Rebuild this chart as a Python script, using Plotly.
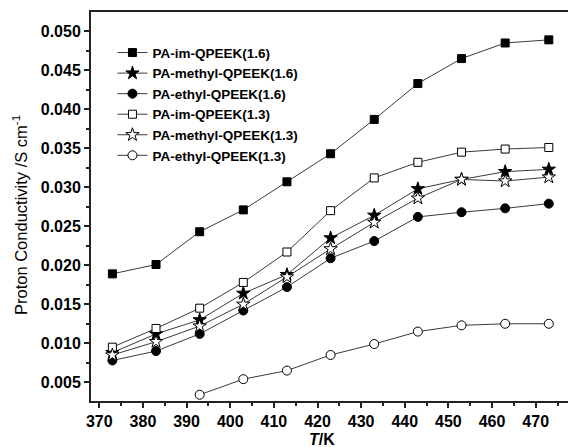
import plotly.graph_objects as go

temps = [373, 383, 393, 403, 413, 423, 433, 443, 453, 463, 473]
temps_ethyl13 = [393, 403, 413, 423, 433, 443, 453, 463, 473]

im16 = [0.0189, 0.0201, 0.0243, 0.0271, 0.0307, 0.0343, 0.0387, 0.0433, 0.0465, 0.0485, 0.0489]
methyl16 = [0.0088, 0.0112, 0.0130, 0.0164, 0.0188, 0.0235, 0.0264, 0.0298, 0.0310, 0.0320, 0.0323]
ethyl16 = [0.0078, 0.0090, 0.0112, 0.0142, 0.0172, 0.0209, 0.0231, 0.0262, 0.0268, 0.0273, 0.0279]
im13 = [0.0095, 0.0119, 0.0145, 0.0178, 0.0217, 0.0270, 0.0312, 0.0332, 0.0345, 0.0349, 0.0351]
methyl13 = [0.0085, 0.0102, 0.0122, 0.0150, 0.0185, 0.0221, 0.0255, 0.0286, 0.0310, 0.0308, 0.0313]
ethyl13 = [0.0034, 0.0054, 0.0065, 0.0085, 0.0099, 0.0115, 0.0123, 0.0125, 0.0125]

names = ["PA-im-QPEEK(1.6)", "PA-methyl-QPEEK(1.6)", "PA-ethyl-QPEEK(1.6)",
         "PA-im-QPEEK(1.3)", "PA-methyl-QPEEK(1.3)", "PA-ethyl-QPEEK(1.3)"]

series = [
    (temps, im16, "square", "black", 8),
    (temps, methyl16, "star", "black", 10),
    (temps, ethyl16, "circle", "black", 9),
    (temps, im13, "square", "white", 8),
    (temps, methyl13, "star", "white", 10),
    (temps_ethyl13, ethyl13, "circle", "white", 9),
]

fig = go.Figure()
for name, (xs, ys, sym, fill, sz) in zip(names, series):
    fig.add_trace(go.Scatter(
        x=xs, y=ys, name=name, mode="lines+markers",
        line=dict(color="#3a3a3a", width=1),
        marker=dict(symbol=sym, size=sz, color=fill,
                    line=dict(color="black", width=1)),
    ))

font = "Liberation Sans, Arial, sans-serif"
fig.update_layout(
    width=568, height=447,
    margin=dict(l=91, r=0, t=12, b=46),
    paper_bgcolor="white", plot_bgcolor="white",
    font=dict(family=font, size=14, color="black"),
    showlegend=True,
    legend=dict(x=0.045, y=0.935, xanchor="left", yanchor="top",
                bgcolor="rgba(0,0,0,0)", borderwidth=0,
                font=dict(family=font, size=13.5, color="black", weight="bold"),
                tracegroupgap=0, itemwidth=30),
    xaxis=dict(range=[368.1, 477.4], tickmode="linear", tick0=370, dtick=10,
               ticks="outside", ticklen=5, tickwidth=1.5, tickcolor="#222",
               showline=True, linecolor="#222", linewidth=2, mirror=True,
               showgrid=False, zeroline=False,
               tickfont=dict(family=font, size=16, weight="bold"),
               minor=dict(dtick=5, ticks="outside", ticklen=3, tickwidth=1.5, tickcolor="#222", showgrid=False)),
    yaxis=dict(range=[0.0026, 0.05247], tickmode="linear", tick0=0.005, dtick=0.005,
               tickformat=".3f",
               ticks="outside", ticklen=5, tickwidth=1.5, tickcolor="#222",
               showline=True, linecolor="#222", linewidth=2, mirror=False,
               showgrid=False, zeroline=False,
               tickfont=dict(family=font, size=16, weight="bold"),
               minor=dict(dtick=0.0025, ticks="outside", ticklen=3, tickwidth=1.5, tickcolor="#222", showgrid=False)),
    annotations=[
        dict(text="<i>T</i>/K", xref="paper", yref="paper", x=(321.7 - 91) / 477, y=-0.098,
             xanchor="center", yanchor="middle", showarrow=False,
             font=dict(family=font, size=16, weight="bold")),
        dict(text="Proton Conductivity /S cm<sup>-1</sup>", xref="paper", yref="paper",
             x=(20 - 91) / 477, y=(401 - 215) / 389, textangle=-90,
             xanchor="center", yanchor="middle", showarrow=False,
             font=dict(family=font, size=16.5)),
    ],
)

fig.write_html("out.html")
